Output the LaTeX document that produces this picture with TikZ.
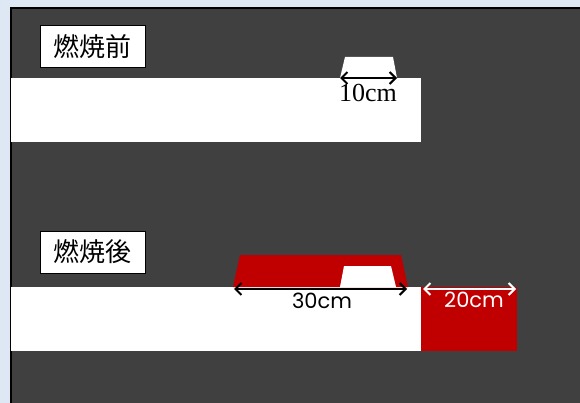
\documentclass[tikz,border=0pt]{standalone}
\usepackage{fontspec}
\newfontfamily\jpfont{Noto Sans CJK JP}
\newfontfamily\numserif{Liberation Serif}
\newfontfamily\numsans{Poppins}
\usetikzlibrary{arrows.meta}
\definecolor{bgblue}{HTML}{DEE8F4}
\definecolor{panel}{HTML}{404040}
\definecolor{burnred}{HTML}{C00000}
\tikzset{
  lbl/.style={draw=black, line width=1pt, fill=white, minimum width=105pt, minimum height=42pt, inner sep=0pt, font=\jpfont\fontsize{26}{26}\selectfont},
  dim/.style={line width=2pt, {Straight Barb[length=6pt,width=12pt]}-{Straight Barb[length=6pt,width=12pt]}},
  band/.style={fill=white, draw=none}
}
\begin{document}
\begin{tikzpicture}[x=1pt,y=-1pt]
\fill[bgblue] (0,0) rectangle (580,403);
\useasboundingbox (0,0) rectangle (580,403);
\fill[panel] (11,8) rectangle (580,403);
\draw[black, line width=2pt] (11,403) -- (11,8) -- (580,8);
% before
\node[lbl] (before) at (92.5,46.5) {燃焼前};
\fill[band] (11,78) rectangle (421,142);
\fill[white] (340,78) -- (345,57) -- (393,57) -- (397,78) -- cycle;
\coordinate (a1) at (340,78);
\coordinate (a2) at (397,78);
\draw[dim, black] (a1) -- (a2);
\node[font=\numserif\fontsize{26}{26}\selectfont, inner sep=0pt] (t10) at (368,93) {10cm};
% after
\node[lbl] (after) at (92.5,252) {燃焼後};
\fill[band] (11,287) rectangle (421,351);
\fill[burnred] (233,287) -- (240,255) -- (401,255) -- (408,287) -- cycle;
\fill[white] (340,287) -- (344,266) -- (391,266) -- (396,287) -- cycle;
\fill[burnred] (421,287) rectangle (517,351);
\coordinate (b1) at (234,289);
\coordinate (b2) at (407,289);
\draw[dim, black] (b1) -- (b2);
\node[font=\numsans\fontsize{21}{21}\selectfont, inner sep=0pt] (t30) at (322,301) {30cm};
\coordinate (c1) at (423,289);
\coordinate (c2) at (516,289);
\draw[dim, white] (c1) -- (c2);
\node[font=\numsans\fontsize{21}{21}\selectfont, text=white, inner sep=0pt] (t20) at (474,300) {20cm};
\end{tikzpicture}
\end{document}
